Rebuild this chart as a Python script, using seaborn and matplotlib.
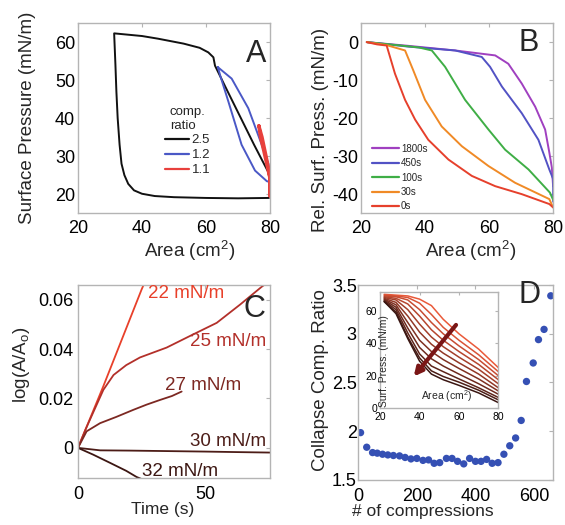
import matplotlib
matplotlib.use('Agg')
import matplotlib.pyplot as plt
import seaborn as sns
from matplotlib.lines import Line2D
from matplotlib.ticker import FormatStrFormatter

# ---- panel A: compression loops (area cm^2, surface pressure mN/m)
a_black_area = [80, 79.5, 70, 60, 50, 44, 40, 37.5, 35.7, 34.5, 33.6, 33.0, 32.4, 32.0, 31.7, 31.3,
                40, 45, 53, 58, 60.7, 62.3, 62.8, 66, 70, 75, 79.5, 80, 80]
a_black_p = [19.2, 19.0, 18.9, 19.0, 19.2, 19.5, 20.1, 21.0, 22.7, 25, 28, 33, 40, 47, 54, 62.3,
             61.6, 60.9, 59.6, 58.5, 57.3, 56, 53.8, 48.3, 41.5, 33, 25.7, 23, 19.2]
a_blue_area = [63.7, 68, 73.2, 77.4, 79.5, 80, 79.5, 79, 75.3, 71.1, 67, 64.5, 63.7]
a_blue_p = [53.4, 50.4, 42.6, 33, 27.9, 24, 23.3, 23.4, 26.2, 33, 44.3, 51, 53.4]
a_red_area = [76.5, 77.5, 78.5, 79.5, 80, 80, 80, 79.2, 78, 77, 76.5]
a_red_p = [38, 35, 31, 27, 24, 19.5, 24, 27, 31.5, 35, 38]
a_labels = ['2.5', '1.2', '1.1']

# ---- panel B: relaxation curves
b_labels = ['1800s', '450s', '100s', '30s', '0s']
b_area = {
    '1800s': [21.8, 35, 49.4, 61.9, 66, 70.2, 74.4, 77.5, 78.8, 79.6, 80],
    '450s': [21.8, 35, 49.4, 57.7, 60.3, 64, 70.2, 75.4, 78.8, 80, 80],
    '100s': [21.8, 30, 38, 42.1, 46.25, 52.5, 59.8, 65, 72.3, 79, 80],
    '30s': [21.8, 28, 33.75, 36.3, 40, 45.2, 51.5, 59.8, 68.1, 78.8, 80],
    '0s': [21.8, 25, 28, 30.6, 33.75, 36.9, 41, 47.3, 54.6, 61.9, 70.2, 78.8, 80],
}
b_press = {
    '1800s': [0, -1.0, -2.2, -3.5, -5.7, -10.9, -17, -23, -29, -33, -38],
    '450s': [0, -1.2, -2.2, -3.9, -6.5, -11.7, -18.7, -25.7, -33.5, -36, -42],
    '100s': [0, -0.7, -1.4, -2.2, -6.5, -15.2, -23, -28.3, -33.5, -39.6, -41.5],
    '30s': [0, -0.8, -2.2, -7.4, -15.2, -22.2, -27.4, -32.6, -37, -41.3, -43.5],
    '0s': [0, -0.6, -0.9, -8.3, -15.2, -20.4, -25.7, -30.9, -35.2, -37.9, -40, -42.6, -43.5],
}
b_colors = ['#a040c0', '#5252c4', '#3fae46', '#f08a26', '#e6402c']

# ---- panel C: log(A/A0) vs time
c_labels = ['22 mN/m', '25 mN/m', '27 mN/m', '30 mN/m', '32 mN/m']
c_time = [
    [0, 5, 10, 15, 20, 25, 30],
    [0, 3, 6.5, 10, 14, 19, 24.4, 34.9, 44.1, 54.6, 63.8, 72.3, 76],
    [0, 3.4, 8.7, 15, 21.8, 27, 32.3, 37, 40.8],
    [0, 8.7, 20, 34.9, 50, 62, 75.6],
    [0, 5.9, 12.5, 19, 23.1, 26],
]
c_val = [
    [0, 0.0125, 0.025, 0.038, 0.051, 0.064, 0.076],
    [0, 0.0075, 0.0155, 0.0235, 0.0295, 0.0335, 0.0366, 0.0406, 0.0453, 0.0506, 0.058, 0.0652, 0.068],
    [0, 0.0067, 0.010, 0.0125, 0.0154, 0.0175, 0.0194, 0.021, 0.0228],
    [0, -0.001, -0.0011, -0.0013, -0.0015, -0.0017, -0.0019],
    [0, -0.0027, -0.006, -0.0093, -0.0118, -0.013],
]
c_label_pos = [(27.5, 0.0625), (44.1, 0.0431), (34.3, 0.0251), (44.1, 0.0026), (25.1, -0.0096)]
c_colors = ['#e8402a', '#b3302a', '#7c2822', '#4c1c17', '#3c1612']

# ---- panel D: collapse compression ratio
d_n = [8, 29, 49, 65, 83, 101, 120, 141, 160, 180, 200, 221, 240, 259, 278, 301, 320,
       339, 360, 380, 400, 419, 438, 457, 477, 497, 517, 537, 556, 574, 597, 615, 634, 657]
d_ratio = [1.985, 1.835, 1.78, 1.774, 1.763, 1.756, 1.75, 1.746, 1.73, 1.715, 1.72, 1.70,
           1.705, 1.67, 1.677, 1.72, 1.72, 1.69, 1.664, 1.72, 1.69, 1.69, 1.71, 1.67, 1.677,
           1.763, 1.85, 1.93, 2.11, 2.51, 2.70, 2.94, 3.045, 3.39]

# ---- inset: isotherms over successive compressions
in_area = [22, 28, 34, 40, 46, 52, 60, 70, 80]
in_curves = [
    [70.5, 70.0, 69.5, 67.5, 63.5, 55.0, 46.0, 36.5, 25.0],
    [70.0, 69.5, 68.5, 65.0, 58.0, 50.0, 42.0, 33.0, 22.5],
    [69.5, 69.0, 67.0, 61.0, 53.0, 46.0, 38.5, 30.0, 20.0],
    [69.0, 68.0, 64.5, 57.0, 48.5, 42.0, 35.0, 27.0, 17.5],
    [68.5, 67.0, 61.0, 52.0, 44.0, 38.0, 31.5, 24.0, 15.0],
    [68.0, 65.5, 57.0, 47.0, 39.5, 34.0, 28.0, 21.0, 12.5],
    [67.5, 64.0, 53.0, 42.0, 35.0, 30.0, 24.5, 18.0, 10.5],
    [67.0, 62.5, 49.5, 37.5, 30.5, 26.0, 21.0, 15.0, 8.5],
    [66.5, 61.0, 46.5, 33.5, 26.0, 22.5, 18.0, 12.5, 6.5],
    [66.0, 59.5, 44.0, 31.0, 23.0, 19.5, 16.0, 11.0, 5.0],
    [66.0, 58.5, 43.0, 29.0, 21.0, 17.5, 14.0, 9.3, 3.3],
]

sns.set_theme(style='white')
plt.rcParams['font.family'] = ['Liberation Sans', 'DejaVu Sans']
plt.rcParams['axes.unicode_minus'] = False
plt.rcParams['mathtext.fontset'] = 'custom'
plt.rcParams['mathtext.rm'] = 'Liberation Sans'
plt.rcParams['mathtext.it'] = 'Liberation Sans:italic'

SPINE = '#b4b4b4'
TICK_FS = 13
LAB_FS = 13.5


def style(ax, xlim, ylim, xticks, yticks, xpad, ypad, fs=TICK_FS):
    ax.set_xlim(xlim)
    ax.set_ylim(ylim)
    ax.set_xticks(xticks)
    ax.set_yticks(yticks)
    ax.xaxis.set_major_formatter(FormatStrFormatter('%g'))
    ax.yaxis.set_major_formatter(FormatStrFormatter('%g'))
    for s in ax.spines.values():
        s.set_color(SPINE)
        s.set_linewidth(1)
    ax.tick_params(direction='in', length=3, width=0.8, color=SPINE, top=True, right=True,
                   labelsize=fs, labelcolor='black')
    ax.tick_params(axis='x', pad=xpad)
    ax.tick_params(axis='y', pad=ypad)


fig = plt.figure(figsize=(5.65, 5.25), dpi=100)

# ---------------- A
axA = fig.add_axes([0.138, 0.594, 0.34, 0.362])
sns.lineplot(x=a_black_area, y=a_black_p, sort=False, estimator=None, color='#111111', lw=1.4, ax=axA)
sns.lineplot(x=a_blue_area, y=a_blue_p, sort=False, estimator=None, color='#4a58c6', lw=1.4, ax=axA)
sns.lineplot(x=a_red_area, y=a_red_p, sort=False, estimator=None, color='#e8403c', lw=2.4, ax=axA)
style(axA, (20, 80), (15, 65), [20, 40, 60, 80], [20, 30, 40, 50, 60], 5, 2)
axA.set_xlabel('Area (cm$^2$)', fontsize=LAB_FS)
axA.set_ylabel('Surface Pressure (mN/m)', fontsize=LAB_FS)
axA.xaxis.set_label_coords(0.583, -0.135)
axA.yaxis.set_label_coords(-0.22, 0.5)
hA = [Line2D([], [], color=c, lw=1.6) for c in ['#111111', '#4a58c6', '#e8403c']]
legA = axA.legend(hA, a_labels, title='comp.\nratio', frameon=False, loc='upper left',
                  bbox_to_anchor=(0.42, 0.6), fontsize=9.5, title_fontsize=9.5,
                  handlelength=1.8, handletextpad=0.2, labelspacing=0.2, borderpad=0)
axA.text(0.927, 0.84, 'A', transform=axA.transAxes, fontsize=22, ha='center', va='center')

# ---------------- B
axB = fig.add_axes([0.639, 0.594, 0.34, 0.362])
for lab, col in zip(b_labels, b_colors):
    sns.lineplot(x=b_area[lab], y=b_press[lab], sort=False, estimator=None, color=col, lw=1.4, ax=axB)
style(axB, (20, 80), (-45, 5), [20, 40, 60, 80], [-40, -30, -20, -10, 0], 5, 2)
axB.set_xlabel('Area (cm$^2$)', fontsize=LAB_FS)
axB.set_ylabel('Rel. Surf. Press. (mN/m)', fontsize=LAB_FS)
axB.xaxis.set_label_coords(0.57, -0.135)
axB.yaxis.set_label_coords(-0.167, 0.44)
hB = [Line2D([], [], color=c, lw=1.6) for c in b_colors]
axB.legend(hB, b_labels, frameon=False, loc='upper left', bbox_to_anchor=(0.03, 0.39),
           fontsize=7, handlelength=2.8, handletextpad=0.2, labelspacing=0.45, borderpad=0)
axB.text(0.87, 0.895, 'B', transform=axB.transAxes, fontsize=22, ha='center', va='center')

# ---------------- C
axC = fig.add_axes([0.138, 0.0895, 0.34, 0.368])
for t, v, col, lab, pos in zip(c_time, c_val, c_colors, c_labels, c_label_pos):
    sns.lineplot(x=t, y=v, sort=False, estimator=None, color=col, lw=1.3, ax=axC)
    axC.text(pos[0], pos[1], lab, color=col, fontsize=13.5, ha='left', va='center')
style(axC, (0, 75.6), (-0.0122, 0.066), [0, 50], [0, 0.02, 0.04, 0.06], 6, 3)
axC.set_xlabel('Time (s)', fontsize=12.5)
axC.set_ylabel('log(A/A$_\\mathrm{o}$)', fontsize=LAB_FS)
axC.xaxis.set_label_coords(0.44, -0.125)
axC.yaxis.set_label_coords(-0.24, 0.585)
axC.text(0.92, 0.876, 'C', transform=axC.transAxes, fontsize=22, ha='center', va='center')

# ---------------- D
axD = fig.add_axes([0.634, 0.086, 0.345, 0.371])
sns.scatterplot(x=d_n, y=d_ratio, color='#3550b4', s=28, edgecolor='none', ax=axD)
style(axD, (0, 665), (1.5, 3.5), [0, 200, 400, 600], [1.5, 2, 2.5, 3, 3.5], 6, 1)
axD.set_xlabel('# of compressions', fontsize=12.5)
axD.set_ylabel('Collapse Comp. Ratio', fontsize=LAB_FS)
axD.xaxis.set_label_coords(0.33, -0.122)
axD.yaxis.set_label_coords(-0.149, 0.51)
axD.text(0.88, 0.95, 'D', transform=axD.transAxes, fontsize=22, ha='center', va='center')

# ---------------- inset
axI = fig.add_axes([0.673, 0.223, 0.209, 0.221])
in_cols = sns.blend_palette(['#ea5a3a', '#3a1612'], len(in_curves))
for vals, col in zip(in_curves, in_cols):
    sns.lineplot(x=in_area, y=vals, sort=False, estimator=None, color=col, lw=1.1, ax=axI)
style(axI, (20, 80), (0, 72), [20, 40, 60, 80], [0, 20, 40, 60], 3, 2, fs=7.5)
axI.tick_params(length=2)
axI.set_xlabel('')
axI.set_ylabel('')
axI.text(0.03, 0.01, 'Surf. Press. (mN/m)', transform=axI.transAxes, rotation=90,
         fontsize=7.5, ha='center', va='bottom')
axI.text(0.565, 0.10, 'Area (cm$^2$)', transform=axI.transAxes, fontsize=7.5,
         ha='center', va='center')
axI.annotate('', xy=(37, 19.5), xytext=(58.5, 51.5),
             arrowprops=dict(arrowstyle='-|>', lw=3, color='#7a1616', mutation_scale=12,
                             shrinkA=0, shrinkB=0))

fig.savefig('out.png', dpi=100)
